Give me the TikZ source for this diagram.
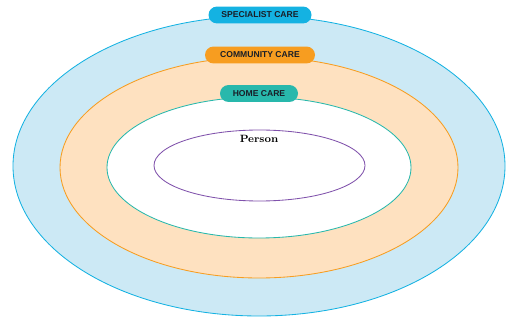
\documentclass[tikz,border=0pt]{standalone}
\usepackage{fontspec}
\newfontfamily\pillfont{Liberation Sans}
\usetikzlibrary{positioning}

\definecolor{specblue}{RGB}{20,178,226}
\definecolor{specfill}{RGB}{204,233,245}
\definecolor{commorange}{RGB}{247,157,32}
\definecolor{commfill}{RGB}{254,225,192}
\definecolor{hometeal}{RGB}{40,184,172}
\definecolor{personpurple}{RGB}{128,82,172}
\definecolor{pilltext}{RGB}{25,30,40}

\tikzset{
  pill/.style={rounded corners=6pt, inner xsep=6pt, inner ysep=0pt,
    minimum height=12pt, text=pilltext,
    font=\pillfont\bfseries\fontsize{6.1}{7}\selectfont},
  ring/.style={line width=0.6pt}
}

\begin{document}
\begin{tikzpicture}[x=0.025cm,y=-0.025cm]
\useasboundingbox (0,0) rectangle (507,320);
%rings
\filldraw[ring, fill=specfill, draw=specblue] (259,166) ellipse [x radius=246, y radius=150];
\filldraw[ring, fill=commfill, draw=commorange] (259,167.5) ellipse [x radius=199, y radius=110.5];
\filldraw[ring, fill=white, draw=hometeal] (259,167.5) ellipse [x radius=152, y radius=70.5];
\draw[ring, draw=personpurple] (259.5,165.5) ellipse [x radius=105.5, y radius=35.5];
%
\node (person) at (259,139) {\bfseries\fontsize{7.5}{8}\selectfont Person};
%labels
\node[pill, fill=specblue, minimum width=103*0.025cm] (specialist) at (260,15) {SPECIALIST CARE};
\node[pill, fill=commorange, minimum width=110*0.025cm] (community) at (260,55) {COMMUNITY CARE};
\node[pill, fill=hometeal, minimum width=78*0.025cm] (home) at (259,93.5) {HOME CARE};
\end{tikzpicture}
\end{document}
